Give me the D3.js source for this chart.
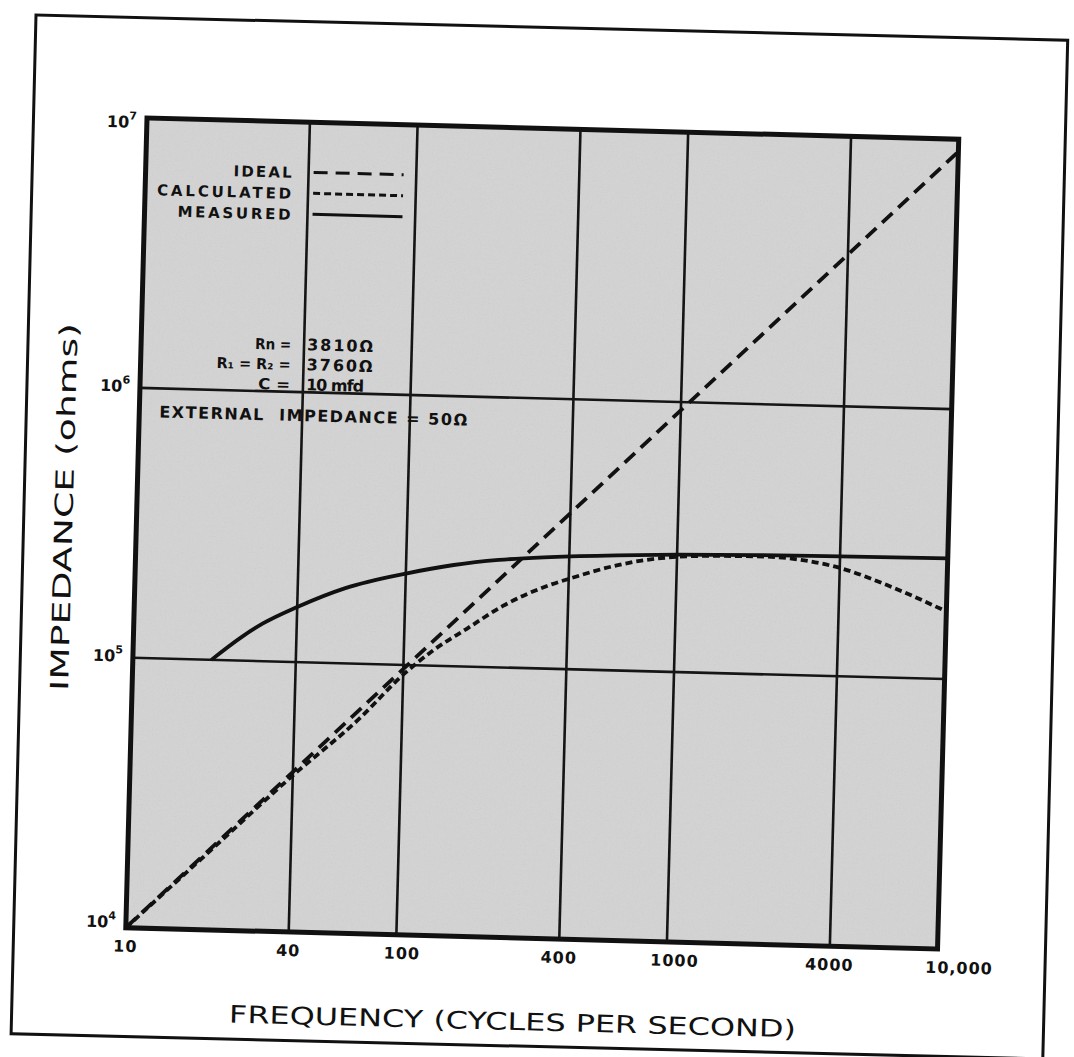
<!DOCTYPE html>
<html>
<head>
<meta charset="utf-8">
<script src="https://cdn.jsdelivr.net/npm/d3@7/dist/d3.min.js"></script>
<style>
  body { margin: 0; background: #fff; }
  svg text { font-family: "DejaVu Sans", sans-serif; fill: #111; }
</style>
</head>
<body>
<div id="chart"></div>
<script>
// tick values and labels
const freqTicks = [10, 40, 100, 400, 1000, 4000, 10000];
const freqTickLabels = ["10", "40", "100", "400", "1000", "4000", "10,000"];
const impTicks = [1e4, 1e5, 1e6, 1e7];
const impTickExp = ["4", "5", "6", "7"];

// ideal curve (dashed)
const idealFreq = [10, 10000];
const idealImp = [1.0e4, 9.0e6];

// calculated curve (short dashes)
const calcFreq = [10, 20, 40, 70, 100, 130, 170, 230, 340, 400, 600, 800, 1000, 1500, 2100, 3000, 4000, 6000, 10000];
const calcImp = [1.0e4, 1.95e4, 3.8e4, 6.3e4, 9.2e4, 1.15e5, 1.38e5, 1.69e5, 2.04e5, 2.16e5, 2.45e5, 2.6e5, 2.67e5, 2.72e5, 2.73e5, 2.66e5, 2.52e5, 2.2e5, 1.78e5];

// measured curve (solid)
const measFreq = [19.5, 25, 30, 40, 60, 100, 150, 220, 340, 600, 1000, 2000, 4000, 10000];
const measImp = [1.0e5, 1.22e5, 1.38e5, 1.6e5, 1.9e5, 2.18e5, 2.37e5, 2.5e5, 2.59e5, 2.67e5, 2.72e5, 2.76e5, 2.78e5, 2.8e5];

const legendNames = ["IDEAL", "CALCULATED", "MEASURED"];
const noteLeft = ["Rn =", "R\u2081 = R\u2082 =", "C ="];
const noteRight = ["3810\u03a9", "3760\u03a9", "10 mfd"];
const noteExternal = "EXTERNAL  IMPEDANCE = 50\u03a9";

const width = 812, height = 810;

const svg = d3.select("#chart")
  .append("svg")
    .attr("width", 1074)
    .attr("height", 1057);

// speckle texture for the gray paper
const defs = svg.append("defs");
const flt = defs.append("filter").attr("id", "speckle")
    .attr("x", 0).attr("y", 0).attr("width", 1).attr("height", 1);
flt.append("feTurbulence")
    .attr("type", "fractalNoise")
    .attr("baseFrequency", 0.8)
    .attr("numOctaves", 2)
    .attr("seed", 3)
    .attr("result", "noise");
flt.append("feColorMatrix")
    .attr("in", "noise")
    .attr("type", "matrix")
    .attr("values", "0 0 0 0 0.55  0 0 0 0 0.55  0 0 0 0 0.55  0 0 0 -1.2 0.62")
    .attr("result", "dots");
flt.append("feComposite")
    .attr("in", "dots")
    .attr("in2", "SourceGraphic")
    .attr("operator", "in");

// outer frame, a bit skewed like the scan
svg.append("g")
    .attr("transform", "translate(36,15) rotate(1.4)")
  .append("rect")
    .attr("width", 1032)
    .attr("height", 1019)
    .attr("fill", "none")
    .attr("stroke", "#111")
    .attr("stroke-width", 3);

const g = svg.append("g")
    .attr("transform", "translate(147,118) rotate(1.5)");

const x = d3.scaleLog().domain([10, 10000]).range([0, width]);
const y = d3.scaleLog().domain([1e4, 1e7]).range([height, 0]);

// gray plot background
g.append("rect")
  .attr("width", width)
  .attr("height", height)
  .attr("fill", "#d3d3d3");
g.append("rect")
  .attr("width", width)
  .attr("height", height)
  .attr("fill", "#d3d3d3")
  .attr("filter", "url(#speckle)");

// grid lines
g.selectAll(".vgrid")
  .data(freqTicks.slice(1, -1))
  .enter()
  .append("line")
    .attr("x1", d => x(d)).attr("x2", d => x(d))
    .attr("y1", 0).attr("y2", height)
    .attr("stroke", "#151515")
    .attr("stroke-width", 2.6);

g.selectAll(".hgrid")
  .data(impTicks.slice(1, -1))
  .enter()
  .append("line")
    .attr("x1", 0).attr("x2", width)
    .attr("y1", d => y(d)).attr("y2", d => y(d))
    .attr("stroke", "#151515")
    .attr("stroke-width", 2.6);

// border
g.append("rect")
  .attr("width", width)
  .attr("height", height)
  .attr("fill", "none")
  .attr("stroke", "#111")
  .attr("stroke-width", 5);

// x tick labels
g.selectAll(".xlab")
  .data(freqTicks)
  .enter()
  .append("text")
    .attr("x", (d, i) => x(d) + (i == 6 ? 22 : i == 4 ? 8 : i == 2 ? 6 : 0))
    .attr("y", height + 24)
    .attr("text-anchor", "middle")
    .style("font-size", "16px")
    .style("font-weight", "bold")
    .style("letter-spacing", "1px")
    .text((d, i) => freqTickLabels[i]);

// y tick labels, 10 with a raised exponent
const ylab = g.selectAll(".ylab")
  .data(impTicks)
  .enter()
  .append("text")
    .attr("x", -10)
    .attr("y", (d, i) => y(d) + (i == 0 ? 0 : i == 3 ? 10 : 4))
    .attr("text-anchor", "end")
    .style("font-size", "16px")
    .style("font-weight", "bold");
ylab.append("tspan").text("10");
ylab.append("tspan")
  .attr("dy", -8)
  .style("font-size", "11px")
  .text((d, i) => impTickExp[i]);

// axis titles
g.append("text")
  .attr("transform", "translate(-64,391) rotate(-90)")
  .attr("text-anchor", "middle")
  .attr("textLength", 368)
  .attr("lengthAdjust", "spacingAndGlyphs")
  .style("font-size", "25px")
  .text("IMPEDANCE (ohms)");

g.append("text")
  .attr("x", 389)
  .attr("y", 902)
  .attr("text-anchor", "middle")
  .attr("textLength", 567)
  .attr("lengthAdjust", "spacingAndGlyphs")
  .style("font-size", "24px")
  .text("FREQUENCY (CYCLES PER SECOND)");

// curves
const line = d3.line()
  .x(d => x(d[0]))
  .y(d => y(d[1]))
  .curve(d3.curveMonotoneX);

g.append("path")
  .datum(idealFreq.map((f, i) => [f, idealImp[i]]))
  .attr("fill", "none")
  .attr("stroke", "#111")
  .attr("stroke-width", 3.8)
  .attr("stroke-dasharray", "14,8")
  .attr("d", line);

g.append("path")
  .datum(calcFreq.map((f, i) => [f, calcImp[i]]))
  .attr("fill", "none")
  .attr("stroke", "#111")
  .attr("stroke-width", 3.8)
  .attr("stroke-dasharray", "7,4")
  .attr("d", line);

g.append("path")
  .datum(measFreq.map((f, i) => [f, measImp[i]]))
  .attr("fill", "none")
  .attr("stroke", "#111")
  .attr("stroke-width", 3.8)
  .attr("d", line);

// legend
const dashes = ["14,8", "7,4", null];
const legendY = [50, 71, 92];
const legendLen = [58, 134, 113];
legendNames.forEach(function(name, i) {
  g.append("text")
    .attr("x", 146)
    .attr("y", legendY[i] + 6)
    .attr("text-anchor", "end")
    .attr("textLength", legendLen[i])
    .attr("lengthAdjust", "spacing")
    .style("font-size", "15px")
    .style("font-weight", "bold")
    .text(name);
  g.append("line")
    .attr("x1", 168).attr("x2", 258)
    .attr("y1", legendY[i]).attr("y2", legendY[i])
    .attr("stroke", "#111")
    .attr("stroke-width", 3)
    .attr("stroke-dasharray", dashes[i]);
});

// circuit notes
const noteY = [228, 248, 268];
const noteLeftLen = [36, 74, 32];
const noteRightLen = [66, 66, 58];
noteLeft.forEach(function(t, i) {
  g.append("text")
    .attr("x", 150)
    .attr("y", noteY[i])
    .attr("text-anchor", "end")
    .attr("textLength", noteLeftLen[i])
    .attr("lengthAdjust", "spacingAndGlyphs")
    .style("font-size", "15px")
    .style("font-weight", "bold")
    .text(t);
  g.append("text")
    .attr("x", 166)
    .attr("y", noteY[i])
    .attr("textLength", noteRightLen[i])
    .attr("lengthAdjust", "spacing")
    .style("font-size", "16px")
    .style("font-weight", "bold")
    .text(noteRight[i]);
});

g.append("text")
  .attr("x", 20)
  .attr("y", 299)
  .style("font-size", "16px")
  .style("font-weight", "bold")
  .style("white-space", "pre")
  .attr("textLength", 308)
  .attr("lengthAdjust", "spacing")
  .text(noteExternal);
</script>
</body>
</html>
